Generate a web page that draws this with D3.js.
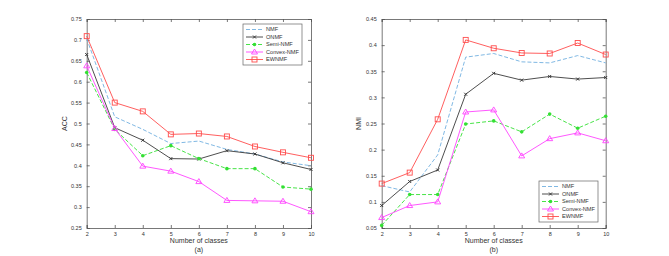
<!DOCTYPE html>
<html>
<head>
<meta charset="utf-8">
<script src="https://cdn.jsdelivr.net/npm/d3@7"></script>
<style>
  body { margin: 0; background: #fff; }
  svg { font-family: "Liberation Sans", Arial, sans-serif; }
</style>
</head>
<body>
<div id="chart"></div>
<script>
// data
var classes = [2, 3, 4, 5, 6, 7, 8, 9, 10];
var methods = ["NMF", "ONMF", "Semi-NMF", "Convex-NMF", "EWNMF"];

var accNMF    = [0.703, 0.516, 0.486, 0.452, 0.458, 0.438, 0.427, 0.408, 0.399];
var accONMF   = [0.665, 0.490, 0.460, 0.416, 0.415, 0.435, 0.427, 0.406, 0.390];
var accSemi   = [0.622, 0.486, 0.423, 0.447, 0.416, 0.392, 0.392, 0.348, 0.343];
var accConvex = [0.638, 0.488, 0.398, 0.386, 0.361, 0.316, 0.315, 0.314, 0.289];
var accEW     = [0.709, 0.550, 0.529, 0.474, 0.476, 0.469, 0.445, 0.431, 0.418];

var nmiNMF    = [0.131, 0.119, 0.190, 0.377, 0.384, 0.368, 0.366, 0.380, 0.366];
var nmiONMF   = [0.093, 0.139, 0.161, 0.306, 0.346, 0.333, 0.340, 0.335, 0.338];
var nmiSemi   = [0.055, 0.114, 0.114, 0.249, 0.255, 0.234, 0.268, 0.241, 0.264];
var nmiConvex = [0.070, 0.093, 0.100, 0.272, 0.276, 0.188, 0.221, 0.232, 0.217];
var nmiEW     = [0.135, 0.156, 0.258, 0.410, 0.394, 0.385, 0.384, 0.404, 0.382];

var accTicks = [0.25, 0.3, 0.35, 0.4, 0.45, 0.5, 0.55, 0.6, 0.65, 0.7, 0.75];
var nmiTicks = [0.05, 0.1, 0.15, 0.2, 0.25, 0.3, 0.35, 0.4, 0.45];

// line styles per method
var styles = {
    "NMF":        { color: "#72b0e0", dash: "4,2", marker: "none" },
    "ONMF":       { color: "#3a3a3a", dash: null,  marker: "x" },
    "Semi-NMF":   { color: "#33e033", dash: "4,2", marker: "dot" },
    "Convex-NMF": { color: "#ff44ff", dash: null,  marker: "triangle" },
    "EWNMF":      { color: "#ff4d4d", dash: null,  marker: "square" }
};

var svg = d3.select("#chart")
    .append("svg")
    .attr("width", 669)
    .attr("height", 256);

var drawMarker = function (g, type, x, y, color) {
    if (type === "x") {
        g.append("path")
            .attr("d", "M" + (x - 1.5) + "," + (y - 1.5) + "L" + (x + 1.5) + "," + (y + 1.5) +
                       "M" + (x - 1.5) + "," + (y + 1.5) + "L" + (x + 1.5) + "," + (y - 1.5))
            .attr("stroke", color).attr("stroke-width", 1);
    } else if (type === "dot") {
        g.append("circle").attr("cx", x).attr("cy", y).attr("r", 1.8).attr("fill", color);
    } else if (type === "triangle") {
        g.append("path")
            .attr("d", "M" + x + "," + (y - 3) + "L" + (x + 3) + "," + (y + 2) + "L" + (x - 3) + "," + (y + 2) + "Z")
            .attr("fill", "none").attr("stroke", color).attr("stroke-width", 0.9);
    } else if (type === "square") {
        g.append("rect")
            .attr("x", x - 2.5).attr("y", y - 2.5).attr("width", 5).attr("height", 5)
            .attr("fill", "none").attr("stroke", color).attr("stroke-width", 0.9);
    }
};

var drawPanel = function (left, right, yDomain, yTicks, seriesList, yLabel, caption, legendPos, labelOffset) {
    var top = 19, bottom = 228;
    var x = d3.scaleLinear().domain([2, 10]).range([left, right]);
    var y = d3.scaleLinear().domain(yDomain).range([bottom, top]);
    var g = svg.append("g");

    // box and inward ticks on all four sides
    var axisColor = "#555";
    var gx = g.append("g").attr("transform", "translate(0," + bottom + ")")
        .call(d3.axisBottom(x).tickValues(classes).tickSize(-3).tickPadding(4).tickFormat(d3.format("d")));
    var gxt = g.append("g").attr("transform", "translate(0," + top + ")")
        .call(d3.axisTop(x).tickValues(classes).tickSize(-3).tickFormat(""));
    var gy = g.append("g").attr("transform", "translate(" + left + ",0)")
        .call(d3.axisLeft(y).tickValues(yTicks).tickSize(-3).tickPadding(5)
            .tickFormat(function (d) { return String(+d.toFixed(2)); }));
    var gyr = g.append("g").attr("transform", "translate(" + right + ",0)")
        .call(d3.axisRight(y).tickValues(yTicks).tickSize(-3).tickFormat(""));
    [gx, gxt, gy, gyr].forEach(function (a) {
        a.selectAll("path, line").attr("stroke", axisColor).attr("stroke-width", 0.8);
        a.selectAll("text").attr("fill", "#333").style("font-size", "5.5px");
    });

    // lines and markers
    var line = d3.line().x(function (d, i) { return x(classes[i]); }).y(function (d) { return y(d); });
    seriesList.forEach(function (vals, k) {
        var st = styles[methods[k]];
        g.append("path")
            .datum(vals)
            .attr("d", line)
            .attr("fill", "none")
            .attr("stroke", st.color)
            .attr("stroke-width", 0.9)
            .attr("stroke-dasharray", st.dash);
        vals.forEach(function (v, i) {
            drawMarker(g, st.marker, x(classes[i]), y(v), st.color);
        });
    });

    // axis titles
    g.append("text")
        .attr("x", (left + right) / 2).attr("y", 242.5)
        .attr("text-anchor", "middle").style("font-size", "7px").attr("fill", "#333")
        .text("Number of classes");
    g.append("text")
        .attr("x", (left + right) / 2).attr("y", 251.5)
        .attr("text-anchor", "middle").style("font-size", "7px").attr("fill", "#333")
        .text(caption);
    g.append("text")
        .attr("transform", "translate(" + (left - labelOffset) + "," + ((top + bottom) / 2) + ") rotate(-90)")
        .attr("text-anchor", "middle").style("font-size", "7px").attr("fill", "#333")
        .text(yLabel);

    // legend
    var lg = g.append("g").attr("transform", "translate(" + legendPos[0] + "," + legendPos[1] + ")");
    lg.append("rect").attr("width", 59).attr("height", 41)
        .attr("fill", "#fff").attr("stroke", "#666").attr("stroke-width", 0.7);
    methods.forEach(function (m, i) {
        var st = styles[m];
        var ly = 5.5 + i * 7.5;
        lg.append("line")
            .attr("x1", 3).attr("x2", 20).attr("y1", ly).attr("y2", ly)
            .attr("stroke", st.color).attr("stroke-width", 0.9)
            .attr("stroke-dasharray", st.dash);
        drawMarker(lg, st.marker, 11.5, ly, st.color);
        lg.append("text")
            .attr("x", 23).attr("y", ly)
            .attr("dy", "0.35em")
            .style("font-size", "5.6px").attr("fill", "#333")
            .text(m);
    });
};

drawPanel(86.7, 311, [0.25, 0.75], accTicks,
    [accNMF, accONMF, accSemi, accConvex, accEW], "ACC", "(a)", [243, 24], 19.5);
drawPanel(381.7, 605.7, [0.05, 0.45], nmiTicks,
    [nmiNMF, nmiONMF, nmiSemi, nmiConvex, nmiEW], "NMI", "(b)", [539, 181], 21);
</script>
</body>
</html>
